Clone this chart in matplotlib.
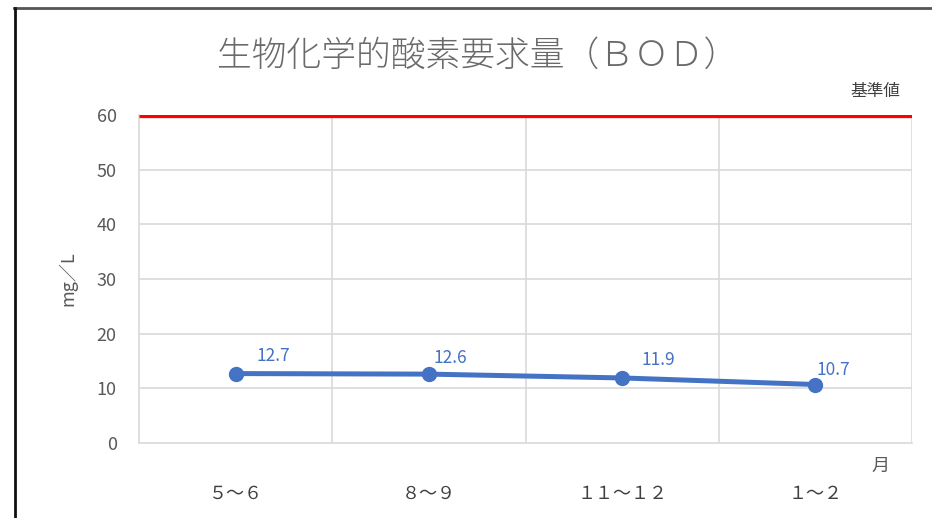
import matplotlib
matplotlib.use("Agg")
import matplotlib.pyplot as plt
from matplotlib.lines import Line2D

categories = ["５～６", "８～９", "１１～１２", "１～２"]
values = [12.7, 12.6, 11.9, 10.7]
standard = 60
yticks = [0, 10, 20, 30, 40, 50, 60]
title = "生物化学的酸素要求量（ＢＯＤ）"

W, H = 932, 518
fig = plt.figure(figsize=(W / 100, H / 100), dpi=100)
plt.rcParams['font.family'] = ['Noto Sans CJK JP', 'DejaVu Sans']

def px(x0, y0, x1, y1):
    return [x0 / W, 1 - y1 / H, (x1 - x0) / W, (y1 - y0) / H]

ax = fig.add_axes(px(139, 115, 912, 443))
ax.set_xlim(-0.5, len(categories) - 0.5)
ax.set_ylim(0, 60)

grid_c = "#D9D9D9"
for y in yticks[1:]:
    ax.axhline(y, color=grid_c, lw=1.2, zorder=1)
for xv in [0.5, 1.5, 2.5, 3.5]:
    ax.axvline(xv, color=grid_c, lw=1.2, zorder=1)

ax.axhline(standard, color="#FF0000", lw=3.8, zorder=3, solid_capstyle='butt')

x = list(range(len(categories)))
ax.plot(x, values, color="#4472C4", lw=3.6, marker='o', ms=10, zorder=4)

offsets = [(21, 9), (5, 7), (19, 9), (1, 6)]
for xi, v, (dx, dy) in zip(x, values, offsets):
    ax.annotate(f"{v}", (xi, v), xytext=(dx * 0.72, dy * 0.72), textcoords='offset points',
                ha='left', va='bottom', color="#4472C4", fontsize=12.5)

for s in ['top', 'right']:
    ax.spines[s].set_visible(False)
for s in ['left', 'bottom']:
    ax.spines[s].set_color(grid_c)
    ax.spines[s].set_linewidth(1.2)

ax.set_yticks(yticks)
ax.set_yticklabels([str(t) for t in yticks], color="#595959", fontsize=13)
ax.set_xticks(x)
ax.set_xticklabels(categories, color="#404040", fontsize=13)
ax.tick_params(axis='both', length=0)
ax.tick_params(axis='y', pad=16)
ax.tick_params(axis='x', pad=30)

ax.set_ylabel("mg／L", color="#595959", fontsize=13, labelpad=14)

ax.text(0.9586, -0.070, "月", transform=ax.transAxes, ha='center', va='center',
        color="#595959", fontsize=13)
ax.text(0.953, 1.072, "基準値", transform=ax.transAxes, ha='center', va='center',
        color="#404040", fontsize=12)

fig.text(478 / W, 1 - 56 / H, title, ha='center', va='center', color="#6A6A6A",
         fontsize=25, fontweight='light')

# border
fig.add_artist(Line2D([14 / W, 1], [1 - 8 / H, 1 - 8 / H], color="#555555", lw=2))
fig.add_artist(Line2D([15 / W, 15 / W], [0, 1 - 8 / H], color="#111111", lw=2))

fig.savefig("out.png", dpi=100)
